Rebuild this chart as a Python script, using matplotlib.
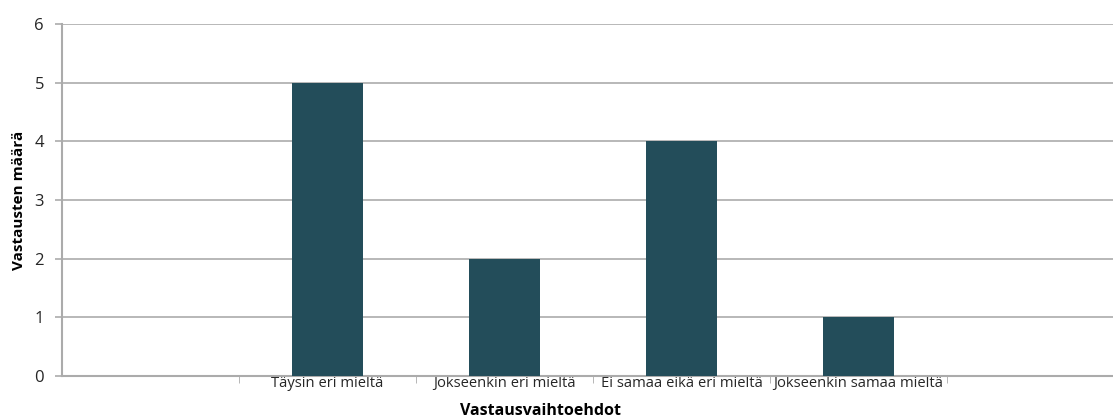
import matplotlib
matplotlib.use("Agg")
import matplotlib.pyplot as plt
import numpy as np

categories = ["", "Täysin eri mieltä", "Jokseenkin eri mieltä",
              "Ei samaa eikä eri mieltä", "Jokseenkin samaa mieltä", ""]
counts = [0, 5, 2, 4, 1, 0]
y_ticks = [0, 1, 2, 3, 4, 5, 6]

bar_color = "#234D5A"
grid_color = "#ababab"
text_color = "#262626"

plt.rcParams["font.family"] = ["Open Sans", "DejaVu Sans"]

W, H = 1113, 420
fig = plt.figure(figsize=(W / 100, H / 100), dpi=100)
left, right, top, bottom = 62, 1113, 24, 376
ax = fig.add_axes([left / W, 1 - bottom / H, (right - left) / W, (bottom - top) / H])

x = np.arange(len(categories))
ax.bar(x, counts, width=0.4, color=bar_color, zorder=3)

ax.set_yticks(y_ticks)
ax.set_yticklabels([str(v) for v in y_ticks], fontsize=12, color=text_color)
ax.yaxis.grid(True, color=grid_color, linewidth=1.2, zorder=0)

# category labels centred in each slot, boundary tick marks between slots
ax.set_xticks(x)
ax.set_xticklabels(categories, fontsize=10.6, color=text_color)
ax.tick_params(axis="x", length=0, pad=0)
ax.set_xticks(np.arange(len(categories)) + 0.5, minor=True)
ax.tick_params(axis="x", which="minor", length=5, color=grid_color, direction="out")
ax.tick_params(axis="y", length=5, color=grid_color, width=1.2, pad=8)

# the right-hand slot runs past the edge of the figure
ax.set_xlim(-0.5, -0.5 + (right - left) / 177.0)
ax.set_ylim(0, 6)

for side in ["top", "right"]:
    ax.spines[side].set_visible(False)
ax.spines["left"].set_color(grid_color)
ax.spines["left"].set_linewidth(1.5)
ax.spines["bottom"].set_color(grid_color)
ax.spines["bottom"].set_linewidth(1.5)

ax.set_ylabel("Vastausten määrä", fontsize=11, fontweight="bold", color="black", labelpad=6)
fig.text(541 / W, 1 - 411 / H, "Vastausvaihtoehdot", fontsize=11.5, fontweight="bold",
         ha="center", va="center", color="black")

fig.savefig("out.png", dpi=100, facecolor="white")
